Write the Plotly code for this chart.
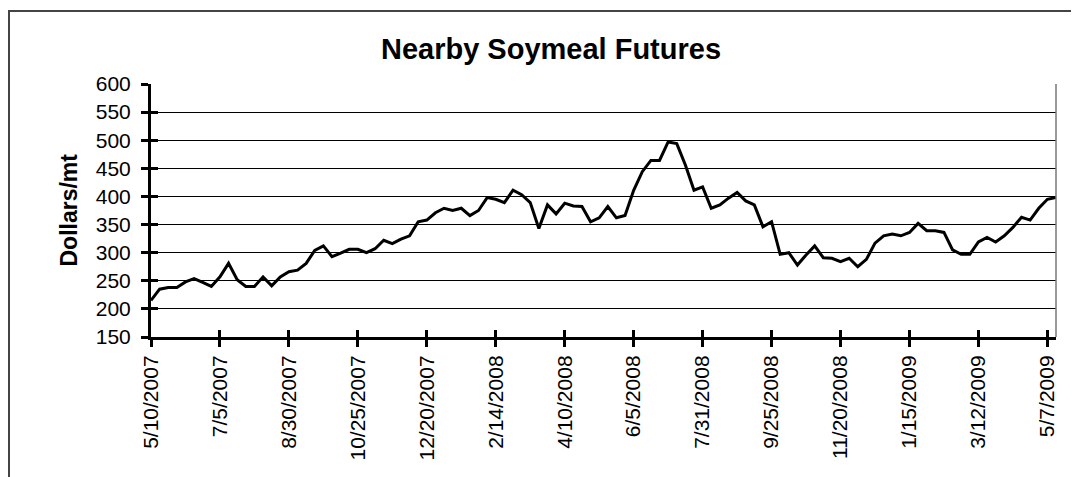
import pandas as pd
import plotly.graph_objects as go

start_date = "2007-05-10"
prices = [215, 235, 238, 238, 248, 254, 247, 240, 257, 281,
          252, 240, 240, 257, 241, 257, 266, 269, 281, 304,
          312, 293, 299, 306, 306, 300, 307, 322, 316, 324,
          330, 355, 358, 371, 379, 375, 379,
          366, 375, 398, 395, 389, 411, 403, 389, 343, 385,
          369, 388, 383, 382, 355, 362, 382, 362, 366, 411,
          444, 464, 464, 497, 494, 456, 411, 417, 379, 385,
          397, 407, 392, 385,
          346, 355, 297, 300, 278, 296, 312, 291, 290, 284,
          290, 275, 288, 317, 330, 333, 330, 336, 352, 339,
          339, 336, 305, 297, 297, 319, 327, 319, 330, 345,
          363, 358, 379, 395, 398]
dates = pd.date_range(start_date, periods=len(prices), freq="7D")

tick_labels = ["5/10/2007", "7/5/2007", "8/30/2007", "10/25/2007", "12/20/2007",
               "2/14/2008", "4/10/2008", "6/5/2008", "7/31/2008", "9/25/2008",
               "11/20/2008", "1/15/2009", "3/12/2009", "5/7/2009"]
tick_dates = pd.to_datetime(tick_labels, format="%m/%d/%Y")

title_text = "Nearby Soymeal Futures"
y_title = "Dollars/mt"

FONT = "Arial, Liberation Sans, sans-serif"

# figure size compensates for the page's 8px body margin
W, H = 1071, 469
L, R, T, B = 143, 23, 76, 140
PW, PH = W - L - R, H - T - B

fig = go.Figure()
fig.add_trace(go.Scatter(x=dates, y=prices, mode="lines",
                         line=dict(color="black", width=3), showlegend=False))
# invisible trace to carry the overlay axes (for crossing tick marks)
fig.add_trace(go.Scatter(x=dates, y=prices, mode="lines", xaxis="x2", yaxis="y2",
                         line=dict(color="rgba(0,0,0,0)", width=0), showlegend=False,
                         hoverinfo="skip"))

xr = [dates[0], dates[-1]]
common_x = dict(type="date", range=xr, tickvals=tick_dates, ticktext=tick_labels)
fig.update_layout(
    width=W, height=H,
    margin=dict(l=L, r=R, t=T, b=B),
    paper_bgcolor="white", plot_bgcolor="white",
    font=dict(family=FONT, color="black"),
    title=dict(text=title_text, x=(551 - 8) / W, xref="container", xanchor="center",
               y=1 - (49 - 8) / H, yref="container", yanchor="middle",
               font=dict(size=29, family=FONT, color="black", weight="bold")),
    xaxis=dict(**common_x, tickangle=-90, tickfont=dict(size=21),
               showline=True, linecolor="black", linewidth=3,
               ticks="outside", ticklen=7, tickwidth=3, tickcolor="black",
               showgrid=False, zeroline=False),
    xaxis2=dict(**common_x, overlaying="x", anchor="y", side="bottom",
                showticklabels=False, ticks="inside", ticklen=7, tickwidth=3,
                tickcolor="black", showgrid=False, showline=False, zeroline=False),
    yaxis=dict(range=[150, 600], dtick=50, tick0=150, tickfont=dict(size=21),
               showline=True, linecolor="black", linewidth=3,
               ticks="outside", ticklen=7, tickwidth=3, tickcolor="black",
               ticklabelstandoff=6,
               showgrid=True, gridcolor="black", gridwidth=1, zeroline=False),
    yaxis2=dict(range=[150, 600], dtick=50, tick0=150, overlaying="y", anchor="x",
                side="left", showticklabels=False, ticks="inside", ticklen=7,
                tickwidth=3, tickcolor="black", showgrid=False, showline=False,
                zeroline=False),
    annotations=[dict(text="<b>" + y_title + "</b>", textangle=-90,
                      xref="paper", yref="paper", x=(68 - 8 - L) / PW, y=0.5,
                      xanchor="center", yanchor="middle", showarrow=False,
                      font=dict(size=23, family=FONT, color="black"))],
    shapes=[
        dict(type="rect", xref="paper", yref="paper",
             x0=(1 - L) / PW, x1=(1073 - 8 - L) / PW,
             y0=-(H + 20 - (H - B)) / PH, y1=(H - B - (10 - 8 + 1)) / PH,
             line=dict(color="#444444", width=2), layer="below"),
        dict(type="line", xref="paper", yref="paper", x0=1, x1=1, y0=0, y1=1,
             line=dict(color="#777777", width=1.5)),
    ],
)

fig.write_html("out.html")
